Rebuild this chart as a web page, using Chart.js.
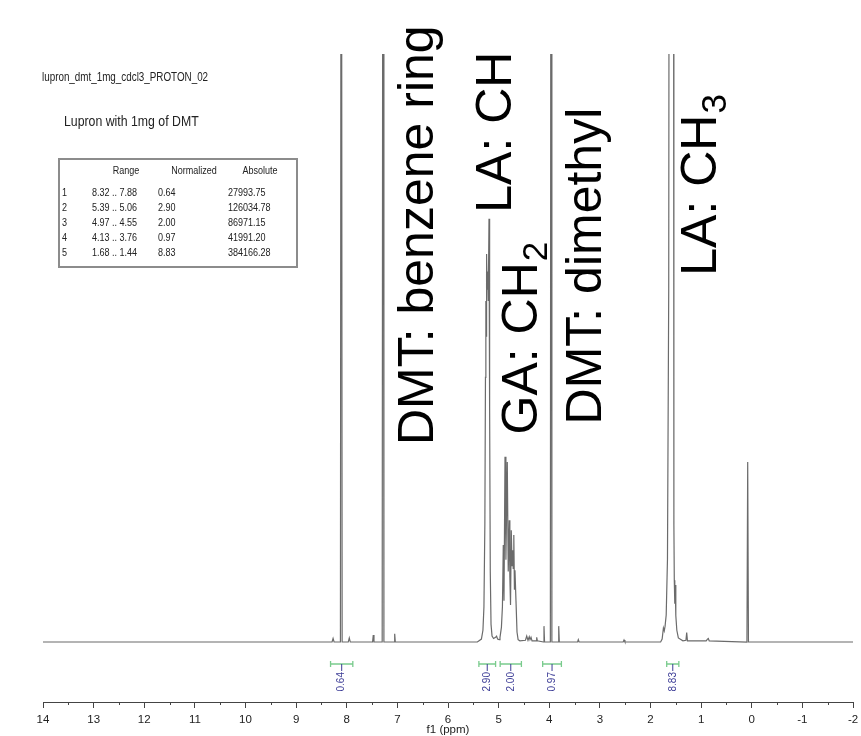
<!DOCTYPE html>
<html>
<head>
<meta charset="utf-8">
<script src="https://cdn.jsdelivr.net/npm/chart.js@4.4.1/dist/chart.umd.min.js"></script>
<style>
  html, body { margin: 0; padding: 0; background: #fff; overflow: hidden; }
  canvas { display: block; }
</style>
</head>
<body>
<canvas id="nmr" width="880" height="736"></canvas>
<script>
// 1H spectrum trace: shift (ppm) and intensity (100 = top of plot)
const specPpm = [
  14.00, 8.40, 8.29, 8.27, 8.25, 8.125, 8.108, 8.091, 7.97, 7.95, 7.93,
  7.49, 7.476, 7.462, 7.30, 7.283, 7.266, 7.065, 7.053, 7.041,
  5.42, 5.34, 5.31, 5.29, 5.272, 5.26, 5.252, 5.246, 5.238, 5.228, 5.215, 5.205,
  5.19, 5.178, 5.165, 5.15, 5.13, 5.10, 5.06, 5.04, 5.02, 4.99,
  4.973, 4.945, 4.925, 4.908, 4.894, 4.874, 4.856, 4.829, 4.810, 4.790, 4.778,
  4.765, 4.750, 4.735, 4.722, 4.712, 4.700, 4.688, 4.677, 4.657, 4.637, 4.615, 4.58,
  4.47, 4.445, 4.42, 4.395, 4.38, 4.36, 4.34, 4.26, 4.248, 4.235,
  4.115, 4.104, 4.093, 3.978, 3.963, 3.948, 3.825, 3.813, 3.801,
  3.44, 3.426, 3.41, 2.54, 2.523, 2.505,
  1.80, 1.77, 1.745, 1.728, 1.712, 1.69, 1.665, 1.64, 1.625, 1.548, 1.538,
  1.53, 1.52, 1.512, 1.50, 1.48, 1.45, 1.36, 1.30, 1.285, 1.27,
  0.90, 0.875, 0.858, 0.84, 0.095, 0.08, 0.065, -2.00
];
const specInt = [
  0, 0, 0, 0.6, 0, 0, 200, 0, 0, 0.7, 0,
  0, 1.2, 0, 0, 200, 0, 0, 1.4, 0,
  0, 0.5, 2, 6, 20, 45, 58, 52, 66, 60, 63, 58,
  72, 40, 12, 3, 1, 0.6, 0.8, 1.0, 0.5, 0.4,
  0.8, 2.5, 6, 16.5, 7, 31.5, 14, 30.6, 12, 20.7, 11,
  6.3, 19, 13, 15.6, 12.5, 18.2, 9, 12.2, 7, 1.7, 0.4, 0.2,
  0.3, 1.0, 0.3, 0.9, 0.4, 0.8, 0.2, 0.2, 0.8, 0.2,
  0, 2.7, 0, 0, 200, 0, 0, 2.7, 0,
  0, 0.4, 0, 0, 0.35, 0,
  0, 0.5, 2.4, 1.9, 2.7, 4.6, 14, 60, 200, 200, 20,
  10.5, 6.5, 9.7, 4.5, 2, 0.7, 0.2, 0.3, 1.6, 0.2,
  0.2, 0.5, 0.6, 0.2, 0, 30.6, 0, 0
];

// integrals
const intFrom = [8.32, 5.39, 4.97, 4.13, 1.68];
const intTo = [7.88, 5.06, 4.55, 3.76, 1.44];
const intNorm = [0.64, 2.90, 2.00, 0.97, 8.83];
const intAbs = [27993.75, 126034.78, 86971.15, 41991.20, 384166.28];

const fileName = 'lupron_dmt_1mg_cdcl3_PROTON_02';
const sampleTitle = 'Lupron with 1mg of DMT';
const tableHeads = ['Range', 'Normalized', 'Absolute'];

// peak assignments (text + subscript)
const peakLabels = ['DMT: benzene ring', 'LA: CH', 'GA: CH', 'DMT: dimethyl', 'LA: CH'];
const peakSubs = ['', '', '2', '', '3'];
// anchor of each assignment: baseline shift (ppm), start intensity
const labelAt = [[6.30, 33.5], [4.75, 73], [4.25, 35.3], [2.97, 37], [0.70, 62.3]];

const SANS = "'Liberation Sans', Arial, sans-serif";
const INT_Y = -3.74;   // intensity level of the integral brackets
const SQUEEZE = 0.82;  // the original uses a condensed UI font

function squeezed(ctx, text, x, y, align) {
  ctx.save();
  ctx.translate(x, y);
  ctx.scale(SQUEEZE, 1);
  ctx.textAlign = align;
  ctx.fillText(text, 0, 0);
  ctx.restore();
}

const overlay = {
  id: 'overlay',
  afterDraw(chart) {
    const { ctx, scales: { x, y } } = chart;
    ctx.save();

    // header
    ctx.fillStyle = '#222';
    ctx.textBaseline = 'middle';
    ctx.font = '12px ' + SANS;
    squeezed(ctx, fileName, 42, 78, 'left');
    ctx.font = '15px ' + SANS;
    squeezed(ctx, sampleTitle, 64, 122, 'left');

    // integral table
    ctx.strokeStyle = '#8c8c8c';
    ctx.lineWidth = 2;
    ctx.strokeRect(59, 159, 238, 108);
    ctx.font = '11px ' + SANS;
    [126, 194, 260].forEach((cx, i) => squeezed(ctx, tableHeads[i], cx, 171, 'center'));
    intFrom.forEach((f, i) => {
      const ry = 193 + i * 15;
      squeezed(ctx, String(i + 1), 62, ry, 'left');
      squeezed(ctx, f.toFixed(2) + ' .. ' + intTo[i].toFixed(2), 92, ry, 'left');
      squeezed(ctx, intNorm[i].toFixed(2), 158, ry, 'left');
      squeezed(ctx, intAbs[i].toFixed(2), 228, ry, 'left');
    });

    // integral brackets
    const by = y.getPixelForValue(INT_Y);
    intFrom.forEach((f, i) => {
      const x1 = x.getPixelForValue(f), x2 = x.getPixelForValue(intTo[i]);
      const xc = (x1 + x2) / 2;
      ctx.strokeStyle = '#7acb8d';
      ctx.lineWidth = 1.3;
      ctx.beginPath();
      ctx.moveTo(x1, by); ctx.lineTo(x2, by);
      ctx.moveTo(x1, by - 3); ctx.lineTo(x1, by + 3);
      ctx.moveTo(x2, by - 3); ctx.lineTo(x2, by + 3);
      ctx.stroke();
      ctx.strokeStyle = '#3c3c96';
      ctx.lineWidth = 1;
      ctx.beginPath();
      ctx.moveTo(xc, by); ctx.lineTo(xc, by + 7);
      ctx.stroke();
      ctx.save();
      ctx.translate(xc, by + 8);
      ctx.rotate(-Math.PI / 2);
      ctx.textAlign = 'right';
      ctx.textBaseline = 'middle';
      ctx.fillStyle = '#3c3c96';
      ctx.font = '10px ' + SANS;
      ctx.fillText(intNorm[i].toFixed(2), 0, 0);
      ctx.restore();
    });

    // minor ticks at half ppm
    const ay = chart.chartArea.bottom;
    ctx.strokeStyle = '#444';
    ctx.lineWidth = 1;
    ctx.beginPath();
    for (let v = -1.5; v < 14; v += 1) {
      const px = Math.round(x.getPixelForValue(v)) + 0.5;
      ctx.moveTo(px, ay); ctx.lineTo(px, ay + 3);
    }
    ctx.stroke();

    // assignments
    ctx.fillStyle = '#000';
    ctx.textBaseline = 'alphabetic';
    ctx.textAlign = 'left';
    peakLabels.forEach((t, i) => {
      const px = x.getPixelForValue(labelAt[i][0]);
      const py = y.getPixelForValue(labelAt[i][1]);
      ctx.save();
      ctx.translate(px, py);
      ctx.rotate(-Math.PI / 2);
      ctx.font = '50px ' + SANS;
      ctx.fillText(t, 0, 0);
      if (peakSubs[i]) {
        const w = ctx.measureText(t).width;
        ctx.font = '35px ' + SANS;
        ctx.fillText(peakSubs[i], w + 1, 10);
      }
      ctx.restore();
    });
    ctx.restore();
  }
};

new Chart(document.getElementById('nmr'), {
  type: 'line',
  data: {
    datasets: [{
      data: specPpm.map((p, i) => ({ x: p, y: specInt[i] })),
      borderColor: '#6b6b6b',
      borderWidth: 1.2,
      pointRadius: 0,
      tension: 0
    }]
  },
  options: {
    responsive: false,
    animation: false,
    events: [],
    layout: { padding: { left: 43, right: 27, top: 54, bottom: 0 } },
    plugins: { legend: { display: false }, tooltip: { enabled: false } },
    scales: {
      x: {
        type: 'linear',
        reverse: true,
        min: -2,
        max: 14,
        ticks: { stepSize: 1, color: '#222', font: { family: SANS, size: 11.5 }, padding: 5, maxRotation: 0, autoSkip: false },
        grid: { drawOnChartArea: false, tickLength: 6, color: '#444', tickColor: '#444' },
        border: { color: '#444', width: 1 },
        title: { display: true, text: 'f1 (ppm)', color: '#222', font: { family: SANS, size: 11.5, lineHeight: 1 }, padding: 0 },
        afterFit: s => { s.height = 34; }
      },
      y: { display: false, min: -10.2, max: 100 }
    }
  },
  plugins: [overlay]
});
</script>
</body>
</html>
